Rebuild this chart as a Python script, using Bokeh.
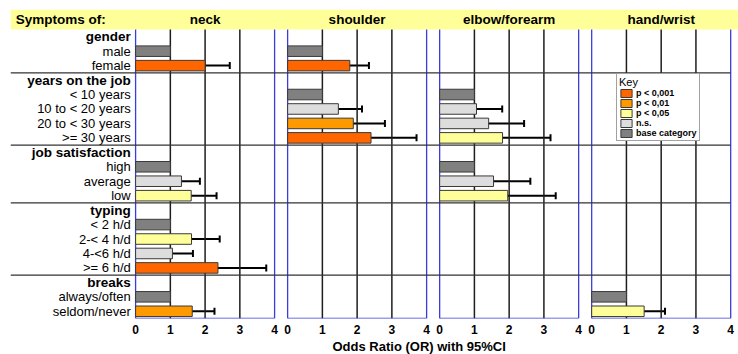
from bokeh.plotting import figure
from bokeh.models import ColumnDataSource, Range1d, FixedTicker, Whisker, TeeHead, Title
from bokeh.core.properties import value
from bokeh.embed import file_html
from bokeh.resources import INLINE

# ---------------- data ----------------
panels = ["neck", "shoulder", "elbow/forearm", "hand/wrist"]
groups = ["gender", "years on the job", "job satisfaction", "typing", "breaks"]
group_items = [
    ["male", "female"],
    ["< 10 years", "10 to < 20 years", "20 to < 30 years", ">= 30 years"],
    ["high", "average", "low"],
    ["< 2 h/d", "2-< 4 h/d", "4-<6 h/d", ">= 6 h/d"],
    ["always/often", "seldom/never"],
]
tick_values = [0, 1, 2, 3, 4]

sig_keys = ["p001", "p01", "p05", "ns", "base"]
sig_labels = ["p < 0,001", "p < 0,01", "p < 0,05", "n.s.", "base category"]
sig_colors = ["#FF6600", "#FF9900", "#FFFF99", "#DDDDDD", "#808080"]

bar_panel = (["neck"] * 11 + ["shoulder"] * 6 + ["elbow/forearm"] * 7 + ["hand/wrist"] * 2)
bar_item = ["male", "female", "high", "average", "low", "< 2 h/d", "2-< 4 h/d", "4-<6 h/d", ">= 6 h/d",
            "always/often", "seldom/never",
            "male", "female", "< 10 years", "10 to < 20 years", "20 to < 30 years", ">= 30 years",
            "< 10 years", "10 to < 20 years", "20 to < 30 years", ">= 30 years", "high", "average", "low",
            "always/often", "seldom/never"]
bar_or = [1, 2.00, 1, 1.32, 1.60, 1, 1.61, 1.06, 2.37, 1, 1.63,
          1, 1.79, 1, 1.46, 1.89, 2.40,
          1, 1.06, 1.41, 1.81, 1, 1.55, 1.96,
          1, 1.51]
bar_lo = [None, 1.53, None, 0.96, 1.10, None, 1.08, 0.72, 1.50, None, 1.20,
          None, 1.36, None, 1.03, 1.30, 1.59,
          None, 0.63, 0.83, 1.03, None, 0.94, 1.18,
          None, 1.09]
bar_hi = [None, 2.71, None, 1.85, 2.33, None, 2.42, 1.65, 3.76, None, 2.27,
          None, 2.34, None, 2.14, 2.80, 3.71,
          None, 1.80, 2.43, 3.19, None, 2.61, 3.34,
          None, 2.11]
bar_sig = ["base", "p001", "base", "ns", "p05", "base", "p05", "ns", "p001", "base", "p01",
           "base", "p001", "base", "ns", "p01", "p001",
           "base", "ns", "ns", "p05", "base", "ns", "p05",
           "base", "p05"]

# ---------------- layout helpers ----------------
PITCH = 4.375          # panel pitch in OR units (4 + gap)
X_LO, X_HI = -3.6, 17.35
HEAD = 1.384           # header band height in row units
FONT = "Liberation Sans"
BOLD_SIZE = "13.5px"

row_of = {}
header_rows, header_text, item_rows, item_text = [], [], [], []
r = 0
boundaries = []
for g, items in zip(groups, group_items):
    header_rows.append(r + 0.5); header_text.append(g); r += 1
    for it in items:
        row_of[it] = r
        item_rows.append(r + 0.5); item_text.append(it); r += 1
    boundaries.append(r)
n_rows = r

p = figure(width=738, height=354, x_range=Range1d(X_LO, X_HI), y_range=Range1d(n_rows, -HEAD),
           output_backend="svg", toolbar_location=None, min_border_left=10, min_border_right=0,
           min_border_top=9, min_border_bottom=36, y_axis_location=None, outline_line_color=None)
p.xgrid.visible = False
p.ygrid.visible = False

# header band
p.quad(left=[X_LO], right=[X_HI], top=[-HEAD], bottom=[0], fill_color="#FFFF99", line_color=None)
p.text(x=[X_LO + 0.15], y=[-HEAD / 2], text=["Symptoms of:"], text_align="left", text_baseline="middle",
       text_font=value(FONT), text_font_size=BOLD_SIZE, text_font_style="bold", text_color="#000000")
p.text(x=[k * PITCH + 2 for k in range(len(panels))], y=[-HEAD / 2] * len(panels), text=panels,
       text_align="center", text_baseline="middle", text_font=value(FONT), text_font_size=BOLD_SIZE,
       text_font_style="bold", text_color="#000000")

# row labels
p.text(x=[-0.14] * len(header_rows), y=header_rows, text=header_text, text_align="right",
       text_baseline="middle", text_font=value(FONT), text_font_size=BOLD_SIZE, text_font_style="bold",
       text_color="#000000")
p.text(x=[-0.14] * len(item_rows), y=item_rows, text=item_text, text_align="right",
       text_baseline="middle", text_font=value(FONT), text_font_size="13px", text_color="#000000")

# grid lines per panel
gx, bx, bb0, bb1 = [], [], [], []
for k in range(len(panels)):
    off = k * PITCH
    for t in tick_values[1:-1]:
        gx.append(off + t)
    bx += [off + tick_values[0], off + tick_values[-1]]
    bb0.append(off + tick_values[0]); bb1.append(off + tick_values[-1])
p.segment(x0=gx, x1=gx, y0=[0] * len(gx), y1=[n_rows] * len(gx), line_color="#1e1e1e", line_width=1.5)
p.segment(x0=bx, x1=bx, y0=[0] * len(bx), y1=[n_rows] * len(bx), line_color="#3c3cdc", line_width=1.3)
p.segment(x0=bb0, x1=bb1, y0=[n_rows] * len(bb0), y1=[n_rows] * len(bb0), line_color="#3c3cdc", line_width=1.3)

# group separators
sep = boundaries[:-1]
p.segment(x0=[X_LO] * len(sep), x1=[(len(panels) - 1) * PITCH + 4] * len(sep), y0=sep, y1=sep,
          line_color="#333333", line_width=1.4)

# bars
for key, lab, col in zip(sig_keys, sig_labels, sig_colors):
    ys, ls, rs = [], [], []
    for pn, it, o, s in zip(bar_panel, bar_item, bar_or, bar_sig):
        if s != key:
            continue
        off = panels.index(pn) * PITCH
        ys.append(row_of[it] + 0.5); ls.append(off); rs.append(off + o)
    src = ColumnDataSource(dict(y=ys, left=ls, right=rs))
    p.hbar(y="y", left="left", right="right", height=0.73, source=src, fill_color=col,
           line_color="#3a3a3a", line_width=1, legend_label=lab)

# confidence intervals
wy, wl, wh = [], [], []
for pn, it, lo, hi in zip(bar_panel, bar_item, bar_lo, bar_hi):
    if lo is None:
        continue
    off = panels.index(pn) * PITCH
    wy.append(row_of[it] + 0.5); wl.append(off + lo); wh.append(off + hi)
wsrc = ColumnDataSource(dict(y=wy, lo=wl, hi=wh))
p.add_layout(Whisker(source=wsrc, base="y", lower="lo", upper="hi", dimension="width",
                     line_color="#000000", line_width=2,
                     upper_head=TeeHead(size=7, line_width=2, line_color="#000000"),
                     lower_head=TeeHead(size=7, line_width=2, line_color="#000000")))

# x axis
ticks, overrides = [], {}
for k in range(len(panels)):
    for t in tick_values:
        v = k * PITCH + t
        ticks.append(v); overrides[v] = str(t)
ax = p.xaxis[0]
ax.ticker = FixedTicker(ticks=ticks)
ax.major_label_overrides = overrides
ax.axis_line_color = None
ax.major_tick_line_color = None
ax.minor_tick_line_color = None
ax.major_tick_in = 0
ax.major_tick_out = 0
ax.major_label_standoff = 6
ax.major_label_text_font = FONT
ax.major_label_text_font_size = "12px"
ax.major_label_text_font_style = "bold"
ax.major_label_text_color = "#000000"

p.add_layout(Title(text="Odds Ratio (OR) with 95%CI", align="left", offset=322, standoff=0,
                   text_font=FONT, text_font_size="13px", text_font_style="bold",
                   text_color="#000000"), "below")

# legend (key)
lg = p.legend[0]
lg.location = (606, 177)
lg.title = "Key"
lg.title_text_font = FONT
lg.title_text_font_size = "11px"
lg.title_text_font_style = "normal"
lg.title_text_color = "#000000"
lg.title_standoff = 0
lg.label_text_font = FONT
lg.label_text_font_size = "9px"
lg.label_text_font_style = "bold"
lg.label_text_color = "#000000"
lg.label_standoff = 3
lg.glyph_width = 14
lg.glyph_height = 10
lg.label_height = 10
lg.spacing = 0
lg.padding = 2
lg.margin = 0
lg.border_line_color = "#444444"
lg.border_line_width = 1
lg.background_fill_alpha = 1.0

open("out.html", "w").write(file_html(p, INLINE))
